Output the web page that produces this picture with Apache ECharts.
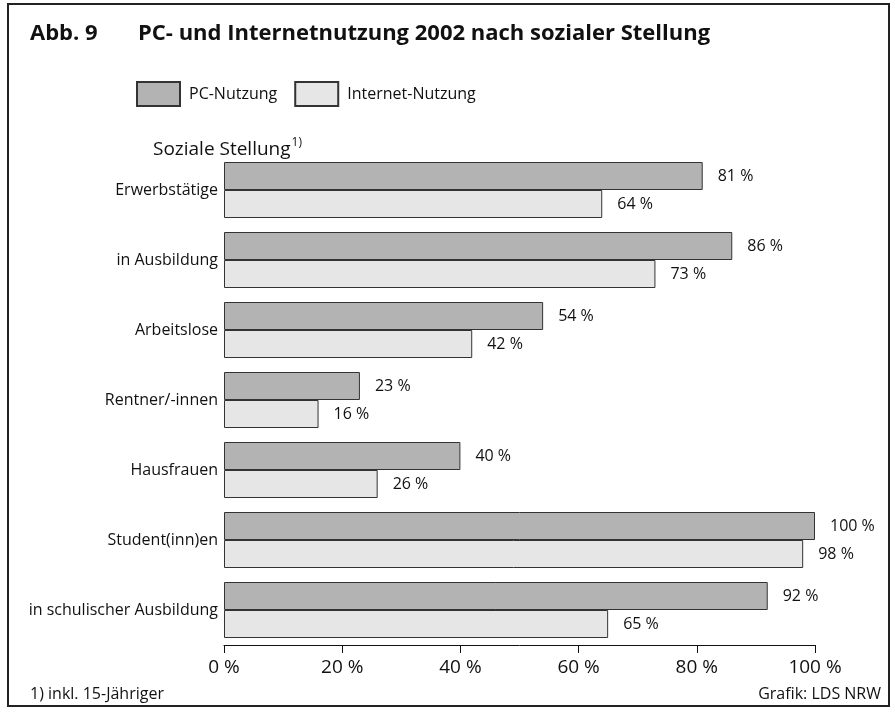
<!DOCTYPE html>
<html>
<head>
<meta charset="utf-8">
<script src="https://cdn.jsdelivr.net/npm/echarts@6/dist/echarts.min.js"></script>
<style>
  html, body { margin: 0; padding: 0; background: #fff; }
  #chart { width: 895px; height: 713px; }
</style>
</head>
<body>
<div id="chart"></div>
<script>
// Daten
const kategorien = ['Erwerbstätige', 'in Ausbildung', 'Arbeitslose', 'Rentner/-innen', 'Hausfrauen', 'Student(inn)en', 'in schulischer Ausbildung'];
const pcNutzung = [81, 86, 54, 23, 40, 100, 92];
const internetNutzung = [64, 73, 42, 16, 26, 98, 65];
const serienNamen = ['PC-Nutzung', 'Internet-Nutzung'];

const schrift = 'Open Sans';
const chart = echarts.init(document.getElementById('chart'));

const balkenLabel = {
  show: true,
  position: 'right',
  distance: 15,
  formatter: '{c} %',
  fontFamily: schrift,
  fontSize: 16,
  color: '#111'
};

chart.setOption({
  animation: false,
  textStyle: { fontFamily: schrift },
  grid: { left: 224, right: 80, top: 155, bottom: 68 },
  legend: {
    left: 136,
    top: 81,
    padding: 0,
    icon: 'rect',
    itemWidth: 43,
    itemHeight: 24,
    itemGap: 17,
    textStyle: { fontFamily: schrift, fontSize: 16, color: '#111', padding: [0, 0, 0, 4] },
    data: serienNamen
  },
  xAxis: {
    type: 'value',
    min: 0,
    max: 100,
    interval: 20,
    axisLine: { show: true, lineStyle: { color: '#111', width: 1 } },
    axisTick: { show: true, length: 8, lineStyle: { color: '#111' } },
    splitLine: { show: false },
    axisLabel: { formatter: '{value} %', fontSize: 19, color: '#111', margin: 13 }
  },
  yAxis: {
    type: 'category',
    inverse: true,
    data: kategorien,
    axisLine: { show: false },
    axisTick: { show: false },
    axisLabel: { fontSize: 16, color: '#111', margin: 6 }
  },
  series: [
    {
      name: serienNamen[0],
      type: 'bar',
      data: pcNutzung,
      barWidth: 28,
      barGap: '0%',
      itemStyle: { color: '#b3b3b3', borderColor: '#333', borderWidth: 1 },
      label: balkenLabel
    },
    {
      name: serienNamen[1],
      type: 'bar',
      data: internetNutzung,
      barWidth: 28,
      barGap: '0%',
      itemStyle: { color: '#e6e6e6', borderColor: '#333', borderWidth: 1 },
      label: balkenLabel
    }
  ],
  graphic: [
    {
      type: 'rect',
      shape: { x: 8, y: 4, width: 881, height: 702 },
      style: { fill: 'none', stroke: '#222', lineWidth: 2 },
      silent: true
    },
    {
      type: 'text', left: 30, top: 23,
      style: { text: 'Abb. 9', font: 'bold 22px "Open Sans"', fill: '#111' }
    },
    {
      type: 'text', left: 138, top: 23,
      style: { text: 'PC- und Internetnutzung 2002 nach sozialer Stellung', font: 'bold 22px "Open Sans"', fill: '#111' }
    },
    {
      type: 'text', left: 153, top: 137,
      style: {
        text: '{a|Soziale Stellung}{s|1)}',
        rich: {
          a: { fontSize: 19, fontFamily: schrift, fill: '#111' },
          s: { fontSize: 12, fontFamily: schrift, fill: '#111', padding: [0, 0, 13, 1] }
        }
      }
    },
    {
      type: 'text', left: 30, top: 686,
      style: { text: '1) inkl. 15-Jähriger', font: '16px "Open Sans"', fill: '#111' }
    },
    {
      type: 'text', right: 14, top: 686,
      style: { text: 'Grafik: LDS NRW', font: '16px "Open Sans"', fill: '#111' }
    }
  ]
});
</script>
</body>
</html>
